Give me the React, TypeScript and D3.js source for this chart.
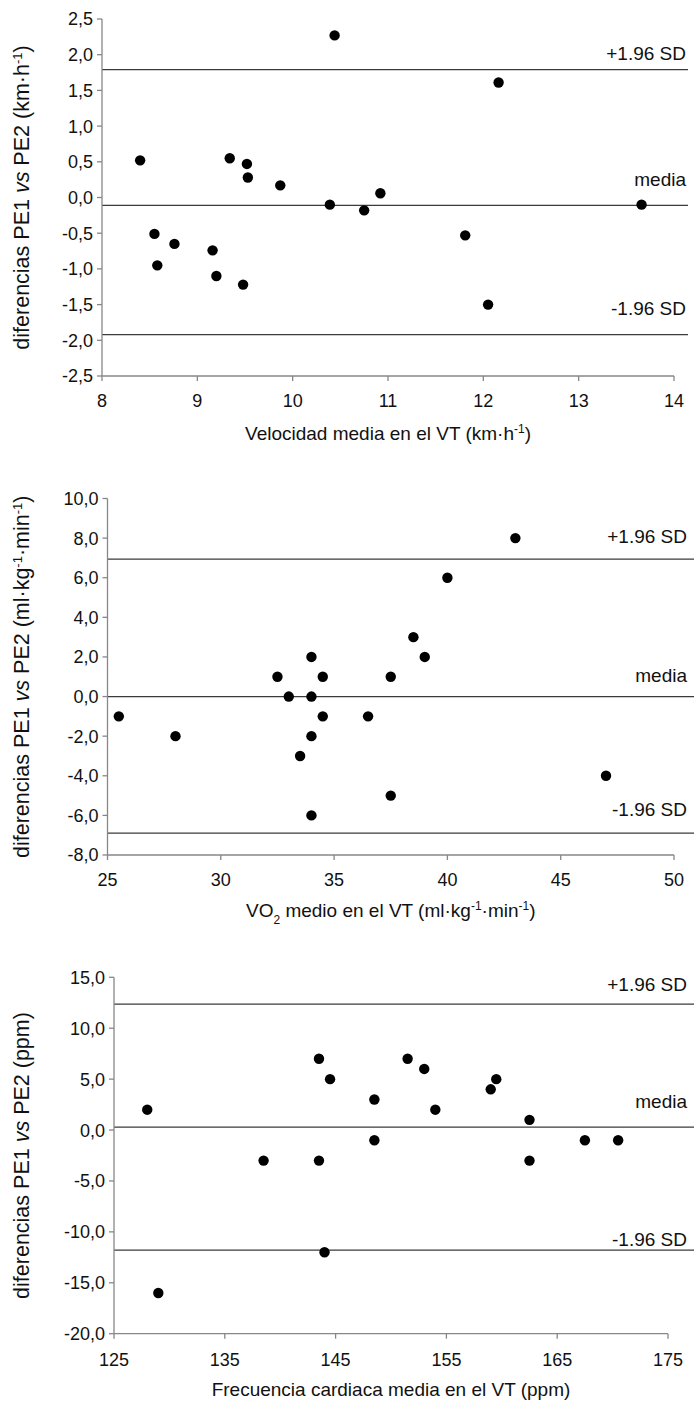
import React from "react";
import * as d3 from "d3";

// ---------- DATA ----------
// Panel 1: velocidad
const velX = [8.4, 8.55, 8.58, 8.76, 9.16, 9.2, 9.34, 9.48, 9.52, 9.53, 9.87, 10.39, 10.44, 10.75, 10.92, 11.81, 12.05, 12.16, 13.66];
const velY = [0.52, -0.51, -0.95, -0.65, -0.74, -1.1, 0.55, -1.22, 0.47, 0.28, 0.17, -0.1, 2.27, -0.18, 0.06, -0.53, -1.5, 1.61, -0.1];
const velRefs = [1.79, -0.11, -1.92];
const velXTicks = [8, 9, 10, 11, 12, 13, 14];
const velYTicks = [-2.5, -2.0, -1.5, -1.0, -0.5, 0.0, 0.5, 1.0, 1.5, 2.0, 2.5];

// Panel 2: VO2
const vo2X = [43, 40, 38.5, 39, 34, 32.5, 34.5, 37.5, 33, 34, 25.5, 34.5, 36.5, 28, 34, 33.5, 47, 37.5, 34];
const vo2Y = [8, 6, 3, 2, 2, 1, 1, 1, 0, 0, -1, -1, -1, -2, -2, -3, -4, -5, -6];
const vo2Refs = [6.94, 0.0, -6.9];
const vo2XTicks = [25, 30, 35, 40, 45, 50];
const vo2YTicks = [-8, -6, -4, -2, 0, 2, 4, 6, 8, 10];

// Panel 3: frecuencia cardiaca
const fcX = [128, 129, 138.5, 143.5, 143.5, 144, 144.5, 148.5, 148.5, 151.5, 153, 154, 159, 159.5, 162.5, 162.5, 167.5, 170.5];
const fcY = [2, -16, -3, 7, -3, -12, 5, 3, -1, 7, 6, 2, 4, 5, 1, -3, -1, -1];
const fcRefs = [12.37, 0.28, -11.8];
const fcXTicks = [125, 135, 145, 155, 165, 175];
const fcYTicks = [-20, -15, -10, -5, 0, 5, 10, 15];

const refLabels = ["+1.96 SD", "media", "-1.96 SD"];

const FONT = "'Liberation Sans', Arial, Helvetica, sans-serif";
const AXIS = "#878787";
const TICK_FS = 18;
const LABEL_FS = 19;
const YTITLE_FS = 21.5;
const fmtY = (v: number) => d3.format(".1f")(v).replace(".", ",").replace("−", "-");

type PanelProps = {
  xs: number[];
  ys: number[];
  refs: number[];
  xTicks: number[];
  yTicks: number[];
  xDomain: [number, number];
  yDomain: [number, number];
  left: number;
  right: number;
  top: number;
  bottom: number;
  lineEnd: number;
  labelY: number[];
  labelX: number;
  tickLabelY: number;
  titleY: number;
  xTitle: React.ReactNode;
  yTitle: React.ReactNode;
};

function Panel(p: PanelProps) {
  const x = d3.scaleLinear().domain(p.xDomain).range([p.left, p.right]);
  const y = d3.scaleLinear().domain(p.yDomain).range([p.bottom, p.top]);
  const cx = (p.left + p.right) / 2;
  const cy = (p.top + p.bottom) / 2;
  return (
    <g>
      {p.refs.map((r, i) => (
        <line key={"r" + i} x1={p.left} x2={p.lineEnd} y1={y(r)} y2={y(r)} stroke="#3a3a3a" strokeWidth={1.3} />
      ))}
      <line x1={p.left} x2={p.left} y1={p.top} y2={p.bottom} stroke={AXIS} strokeWidth={1.3} />
      <line x1={p.left} x2={p.right} y1={p.bottom} y2={p.bottom} stroke={AXIS} strokeWidth={1.3} />
      {p.yTicks.map((t, i) => (
        <g key={"yt" + i}>
          <line x1={p.left - 5} x2={p.left} y1={y(t)} y2={y(t)} stroke={AXIS} strokeWidth={1.3} />
          <text x={p.left - 9} y={y(t)} dy="0.36em" textAnchor="end" fontSize={TICK_FS} fontFamily={FONT} fill="#111">
            {fmtY(t)}
          </text>
        </g>
      ))}
      {p.xTicks.map((t, i) => (
        <g key={"xt" + i}>
          <line x1={x(t)} x2={x(t)} y1={p.bottom} y2={p.bottom + 5} stroke={AXIS} strokeWidth={1.3} />
          <text x={x(t)} y={p.tickLabelY} textAnchor="middle" fontSize={TICK_FS} fontFamily={FONT} fill="#111">
            {t}
          </text>
        </g>
      ))}
      {p.xs.map((v, i) => (
        <circle key={"c" + i} cx={x(v)} cy={y(p.ys[i])} r={5.2} fill="#000" />
      ))}
      {refLabels.map((l, i) => (
        <text key={"l" + i} x={p.labelX} y={p.labelY[i]} textAnchor="end" fontSize={LABEL_FS} fontFamily={FONT} fill="#111">
          {l}
        </text>
      ))}
      <text x={cx} y={p.titleY} textAnchor="middle" fontSize={LABEL_FS} fontFamily={FONT} fill="#111">
        {p.xTitle}
      </text>
      <text transform={`translate(29,${cy}) rotate(-90)`} textAnchor="middle" fontSize={YTITLE_FS} fontFamily={FONT} fill="#111">
        {p.yTitle}
      </text>
    </g>
  );
}

const sup = (s: string, fs = 12) => (
  <tspan baselineShift="super" fontSize={fs}>{s}</tspan>
);

export default function App() {
  return (
    <svg width={694} height={1405} style={{ display: "block", position: "absolute", left: 0, top: 0 }}>
      <rect width={694} height={1405} fill="#fff" />
      <Panel
        xs={velX}
        ys={velY}
        refs={velRefs}
        xTicks={velXTicks}
        yTicks={velYTicks}
        xDomain={[8, 14]}
        yDomain={[-2.5, 2.5]}
        left={102}
        right={674}
        top={19}
        bottom={376}
        lineEnd={688}
        labelY={[60, 186, 315]}
        labelX={686}
        tickLabelY={407}
        titleY={440}
        xTitle={<>Velocidad media en el VT (km·h{sup("-1")})</>}
        yTitle={<>diferencias PE1 <tspan fontStyle="italic">vs</tspan> PE2 (km·h{sup("-1", 13)})</>}
      />
      <Panel
        xs={vo2X}
        ys={vo2Y}
        refs={vo2Refs}
        xTicks={vo2XTicks}
        yTicks={vo2YTicks}
        xDomain={[25, 50]}
        yDomain={[-8, 10]}
        left={107.5}
        right={674}
        top={498.5}
        bottom={855}
        lineEnd={694}
        labelY={[543, 682, 816]}
        labelX={687}
        tickLabelY={886}
        titleY={917}
        xTitle={<>VO<tspan baselineShift="sub" fontSize={12}>2</tspan> medio en el VT (ml·kg{sup("-1")}·min{sup("-1")})</>}
        yTitle={<>diferencias PE1  <tspan fontStyle="italic">vs</tspan> PE2 (ml·kg{sup("-1", 13)}·min{sup("-1", 13)})</>}
      />
      <Panel
        xs={fcX}
        ys={fcY}
        refs={fcRefs}
        xTicks={fcXTicks}
        yTicks={fcYTicks}
        xDomain={[125, 175]}
        yDomain={[-20, 15]}
        left={114}
        right={668}
        top={977.3}
        bottom={1333.7}
        lineEnd={694}
        labelY={[991, 1108, 1246]}
        labelX={687}
        tickLabelY={1366}
        titleY={1396}
        xTitle={<>Frecuencia cardiaca media en el VT (ppm)</>}
        yTitle={<>diferencias PE1 <tspan fontStyle="italic">vs</tspan> PE2 (ppm)</>}
      />
    </svg>
  );
}
